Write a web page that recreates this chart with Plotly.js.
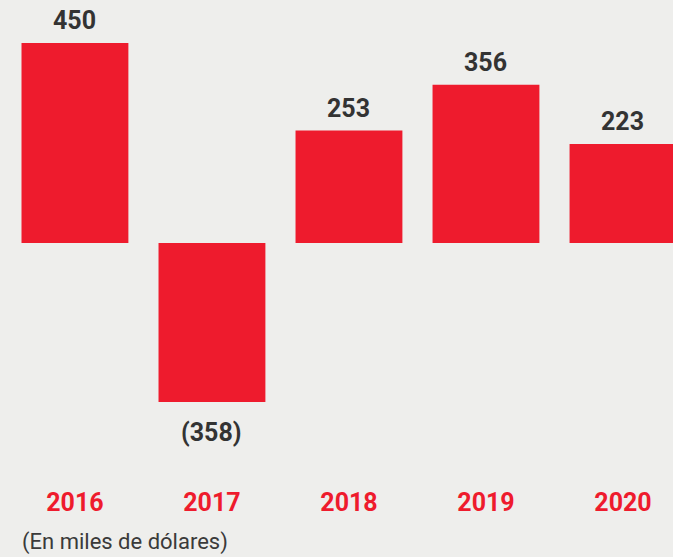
<!DOCTYPE html>
<html>
<head>
<meta charset="utf-8">
<script src="https://cdn.plot.ly/plotly-3.0.1.min.js"></script>
<style>
html,body{margin:0;padding:0;background:#eeeeec;}
#chart{width:673px;height:557px;}
</style>
</head>
<body>
<div id="chart"></div>
<script>
const years = ['2016', '2017', '2018', '2019', '2020'];
const values = [450, -358, 253, 356, 223];
const caption = '(En miles de dólares)';

const labels = values.map(v => v < 0 ? '(' + Math.abs(v) + ')' : String(v));

const trace = {
  type: 'bar',
  x: years,
  y: values,
  marker: {color: '#ee1b2d'},
  width: 0.78,
  hoverinfo: 'none'
};

const labelAnnotations = values.map((v, i) => ({
  x: i,
  y: v,
  xref: 'x', yref: 'y',
  text: labels[i],
  showarrow: false,
  xanchor: 'center',
  yanchor: v < 0 ? 'top' : 'bottom',
  yshift: v < 0 ? -14 : 6,
  font: {family: 'Roboto, Lato, sans-serif', size: 25, color: '#333333', weight: 'bold'}
}));

const layout = {
  width: 673,
  height: 557,
  margin: {l: 0, r: 0, t: 0, b: 72},
  paper_bgcolor: '#eeeeec',
  plot_bgcolor: 'rgba(0,0,0,0)',
  showlegend: false,
  xaxis: {
    type: 'category',
    range: [-0.547, 4.365],
    showgrid: false,
    zeroline: false,
    showline: false,
    ticks: '',
    tickfont: {family: 'Roboto, Lato, sans-serif', size: 25, color: '#ee1b2d', weight: 'bold'},
    ticklabelstandoff: 0
  },
  yaxis: {
    range: [-545, 547],
    visible: false,
    showgrid: false,
    zeroline: false
  },
  annotations: labelAnnotations.concat([{
    text: caption,
    xref: 'paper', yref: 'paper',
    x: 20 / 673, y: -57 / 485,
    xanchor: 'left', yanchor: 'middle',
    showarrow: false,
    font: {family: 'Roboto, Lato, sans-serif', size: 22, color: '#3a3a3a'}
  }])
};

Plotly.newPlot('chart', [trace], layout, {displayModeBar: false, staticPlot: true});
</script>
</body>
</html>
